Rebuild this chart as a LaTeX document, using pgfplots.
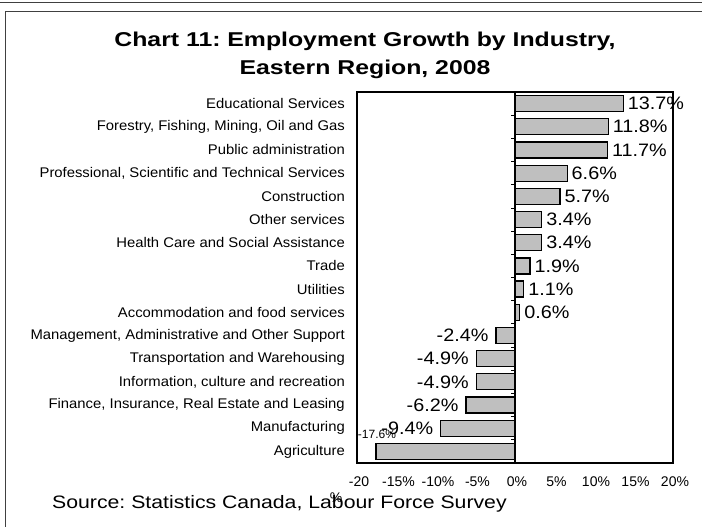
\documentclass[border=0pt]{standalone}
\usepackage{pgfplots}
\pgfplotsset{compat=1.18}
\usepackage{pgfplotstable}
\usepackage{fontspec}
\setmainfont{Liberation Sans}
\newfontfamily\titlefont[FakeStretch=1.24]{Liberation Sans}
\newfontfamily\sourcefont[FakeStretch=1.18]{Liberation Sans}
\newfontfamily\labfont[FakeStretch=1.1]{Liberation Sans}
\newfontfamily\catfont[FakeStretch=1.06]{Liberation Sans}
\frenchspacing

\pgfplotstableread{
y x lab
15 13.7 13.7
14 11.8 11.8
13 11.7 11.7
12 6.6 6.6
11 5.7 5.7
10 3.4 3.4
9 3.4 3.4
8 1.9 1.9
7 1.1 1.1
6 0.6 0.6
}\postable

\pgfplotstableread{
y x lab
5 -2.4 -2.4
4 -4.9 -4.9
3 -4.9 -4.9
2 -6.2 -6.2
1 -9.4 -9.4
}\negtable

\pgfplotstableread{
y x lab
0 -17.6 -17.6
}\agtable

\begin{document}
\begin{tikzpicture}
\useasboundingbox (0pt,-527pt) rectangle (702pt,0pt);
\fill[white] (0pt,-527pt) rectangle (702pt,0pt);
\draw[line width=1.5pt, black!75] (0pt,-2.5pt) -- (702pt,-2.5pt);
\draw[line width=1.5pt, black!75] (702pt,-11.5pt) -- (5.5pt,-11.5pt) -- (5.5pt,-527pt);
\node[anchor=base, font=\titlefont\bfseries\fontsize{20}{24}\selectfont] at (365pt,-47pt) {Chart 11: Employment Growth by Industry,};
\node[anchor=base, font=\titlefont\bfseries\fontsize{20}{24}\selectfont] at (365pt,-75pt) {Eastern Region, 2008};
\node[anchor=base west, font=\sourcefont\fontsize{18}{21}\selectfont, inner sep=0pt] at (52pt,-508pt) {Source: Statistics Canada, Labour Force Survey};

\begin{axis}[
  at={(357pt,-463pt)}, anchor=south west,
  scale only axis, width=316pt, height=371pt,
  xmin=-20, xmax=20, ymin=-0.5, ymax=15.5,
  clip=false,
  axis line style={black, line width=1.3pt},
  major tick length=0pt,
  xtick={-20,-15,...,20},
  xticklabels={-20,-15\%,-10\%,-5\%,0\%,5\%,10\%,15\%,20\%},
  xticklabel style={font=\fontsize{14}{16}\selectfont, anchor=center, yshift=-19pt, xshift=2pt, inner sep=0pt},
  ytick={0,...,15},
  yticklabels={Agriculture,Manufacturing,{Finance, Insurance, Real Estate and Leasing},{Information, culture and recreation},Transportation and Warehousing,{Management, Administrative and Other Support},Accommodation and food services,Utilities,Trade,Health Care and Social Assistance,Other services,{Construction},{Professional, Scientific and Technical Services},Public administration,{Forestry, Fishing, Mining, Oil and Gas},Educational Services},
  yticklabel style={font=\catfont\fontsize{14}{16}\selectfont, anchor=east, inner sep=0pt, xshift=-12pt},
  xlabel={\%},
  xlabel style={at={(axis description cs:-0.066,-0.094)}, anchor=center, font=\fontsize{14}{16}\selectfont, inner sep=0pt},
  xbar, bar width=16pt, bar shift=0pt,
  point meta=explicit symbolic,
  nodes near coords={\pgfplotspointmeta\%},
]
\addplot[fill=black!25, draw=black, line width=1.2pt,
  every node near coord/.append style={anchor=west, inner sep=4pt, black, font=\labfont\fontsize{18}{20}\selectfont}]
  table[x=x, y=y, meta=lab] {\postable};
\addplot[fill=black!25, draw=black, line width=1.2pt,
  every node near coord/.append style={anchor=east, inner sep=7pt, black, font=\labfont\fontsize{18}{20}\selectfont}]
  table[x=x, y=y, meta=lab] {\negtable};
\addplot[fill=black!25, draw=black, line width=1.2pt,
  every node near coord/.append style={anchor=center, inner sep=0pt, yshift=17pt, xshift=1pt, black, font=\fontsize{12}{14}\selectfont}]
  table[x=x, y=y, meta=lab] {\agtable};
\draw[black, line width=1.3pt] (axis cs:0,-0.5) -- (axis cs:0,15.5);
\pgfplotsinvokeforeach{0.5,1.5,...,14.5}{
  \draw[black, line width=0.8pt] (axis cs:0,#1) -- ++(-4pt,0pt);
}
\end{axis}
\end{tikzpicture}
\end{document}
